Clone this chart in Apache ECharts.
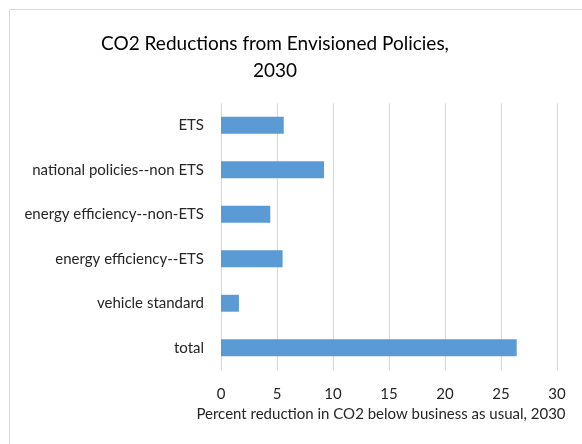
<!DOCTYPE html>
<html><head><meta charset="utf-8">
<script src="https://cdn.jsdelivr.net/npm/echarts@6/dist/echarts.min.js"></script>
<style>html,body{margin:0;padding:0;background:#fff}#c{width:582px;height:444px}</style>
</head><body><div id="c"></div>
<script>
const categories = ["ETS","national policies--non ETS","energy efficiency--non-ETS","energy efficiency--ETS","vehicle standard","total"];
const values = [5.6, 9.2, 4.4, 5.5, 1.6, 26.4];
const titleText = "CO2 Reductions from Envisioned Policies,\n2030";
const xAxisName = "Percent reduction in CO2 below business as usual, 2030";

const chart = echarts.init(document.getElementById('c'), null, {renderer:'canvas'});
const FONT = 'Lato, "Open Sans", sans-serif';
chart.setOption({
  animation: false,
  backgroundColor: '#fff',
  graphic: [{type:'rect', shape:{x:9.5,y:9.5,width:600,height:600}, style:{fill:'none', stroke:'#d9d9d9', lineWidth:1}, silent:true}],
  title: {text: titleText, left: 270, textAlign:'center', top: 25, textStyle:{fontFamily:FONT, fontSize:19, fontWeight:'normal', color:'#000', lineHeight:27}},
  grid: {left:221, right:25, top:103, bottom:74, containLabel:false},
  xAxis: {type:'value', min:0, max:30, interval:5,
    name: xAxisName, nameLocation:'middle', nameGap:30,
    nameTextStyle:{fontFamily:FONT, fontSize:15, color:'#262626', padding:[0,16,0,0]},
    axisLine:{show:false}, axisTick:{show:false},
    axisLabel:{fontFamily:FONT, fontSize:15, color:'#262626', margin:17},
    splitLine:{show:true, lineStyle:{color:'#d9d9d9', width:1}}},
  yAxis: {type:'category', data: categories, inverse:true,
    axisLine:{show:false}, axisTick:{show:false},
    axisLabel:{fontFamily:FONT, fontSize:15, color:'#262626', margin:17}},
  series: [{type:'bar', data: values, barWidth:'38%', itemStyle:{color:'#5B9BD5'}}]
});
</script></body></html>
